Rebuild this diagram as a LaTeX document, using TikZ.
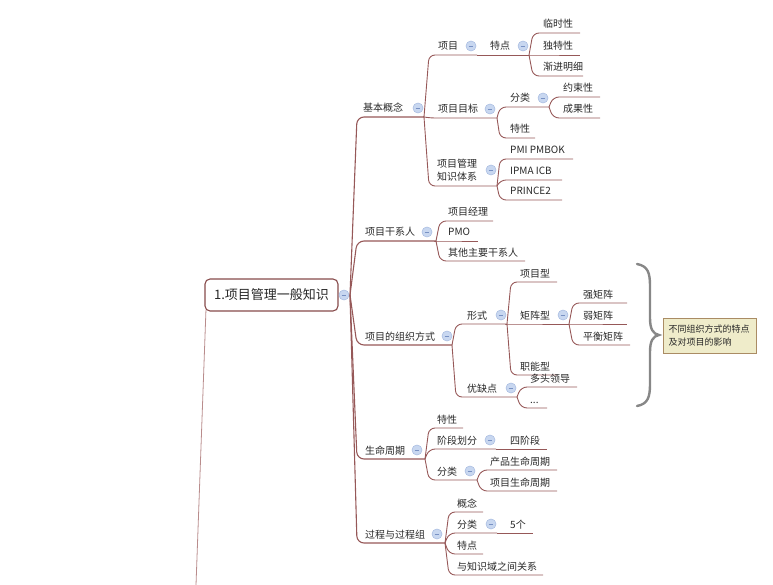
\documentclass[tikz,border=0pt]{standalone}
\usepackage{fontspec}
\setmainfont{Noto Sans CJK SC}
\definecolor{lnk}{RGB}{150,88,88}
\definecolor{txt}{RGB}{40,40,40}
\definecolor{foldfill}{RGB}{200,215,240}
\definecolor{foldline}{RGB}{170,190,225}
\definecolor{foldmark}{RGB}{120,145,195}
\definecolor{rootline}{RGB}{135,75,75}
\definecolor{tailcol}{RGB}{185,140,140}
\definecolor{bracecol}{RGB}{135,135,135}
\definecolor{notefill}{RGB}{239,236,202}
\definecolor{noteline}{RGB}{170,140,100}
\begin{document}
\begin{tikzpicture}[x=1pt,y=-1pt,
  topic/.style={anchor=base west, inner sep=0pt, font=\fontsize{10}{12}\selectfont, text=txt},
  conn/.style={draw=lnk, line width=0.9pt, rounded corners=6pt},
  mainconn/.style={draw=lnk, line width=1.1pt, rounded corners=7pt},
  fold/.style={circle, minimum size=10pt, inner sep=0pt, fill=foldfill, draw=foldline, line width=0.4pt,
    path picture={\draw[foldmark, line width=0.9pt]
      ([xshift=-2.4pt]path picture bounding box.center) -- ([xshift=2.4pt]path picture bounding box.center);}},
  rootbox/.style={draw=rootline, line width=1.1pt, rounded corners=5pt, fill=white,
    minimum width=133pt, minimum height=32pt, inner sep=0pt, font=\fontsize{13}{15}\selectfont, text=txt},
  notebox/.style={draw=noteline, fill=notefill, line width=0.7pt, text width=82pt, align=left,
    inner xsep=5.5pt, inner ysep=0pt, minimum height=35pt, font=\fontsize{9}{13}\selectfont, text=txt},
  bracestroke/.style={draw=bracecol, line width=2.4pt, line cap=round},
]
\useasboundingbox (0,0) rectangle (773,585);

% ---------- central topic ----------
\node[rootbox] (R) at (271.5,295) {1.项目管理一般知识};
\node[fold] (Rf) at (344,295) {};
\coordinate (Ru) at (350,295);
\coordinate (Rk) at (357,295);
\coordinate (Rtail) at (196,585);
\draw[tailcol, line width=0.8pt] ([shift={(1.5pt,1.5pt)}]R.south west) -- (Rtail);

% ---------- 基本概念 ----------
\node[topic] (A) at (363,112) {基本概念};
\coordinate (Au) at (424,117); \coordinate (Ak) at (429,117);
\node[fold] (Af) at (418,108) {};
\draw[mainconn] (Ru) -- (Rk |- Au) -- (Au);

\node[topic] (A1) at (438,50) {项目};
\coordinate (A1u) at (477,55);
\node[fold] (A1f) at (471,46) {};
\draw[conn] (Au) -- (Ak |- A1u) -- (A1u);

\node[topic] (A1a) at (490,50) {特点};
\coordinate (A1au) at (529,55); \coordinate (A1ak) at (533,55);
\node[fold] (A1af) at (523,46) {};
\draw[conn] (A1u) -- (A1au);

\node[topic] (L1) at (543,28) {临时性};   \coordinate (L1u) at (580,33);
\node[topic] (L2) at (543,50) {独特性};   \coordinate (L2u) at (580,55);
\node[topic] (L3) at (543,71) {渐进明细}; \coordinate (L3u) at (583,76);
\foreach \c in {L1u,L2u,L3u} \draw[conn] (A1au) -- (A1ak |- \c) -- (\c);

\node[topic] (A2) at (438,113) {项目目标};
\coordinate (A2u) at (497,118); \coordinate (A2k) at (500,118);
\node[fold] (A2f) at (490,109) {};
\draw[conn] (Au) -- (Ak |- A2u) -- (A2u);

\node[topic] (A2a) at (510,102) {分类};
\coordinate (A2au) at (549,107); \coordinate (A2ak) at (553,107);
\node[fold] (A2af) at (543,98) {};
\draw[conn] (A2u) -- (A2k |- A2au) -- (A2au);
\node[topic] (L4) at (563,92) {约束性};  \coordinate (L4u) at (600,97);
\node[topic] (L5) at (563,113) {成果性}; \coordinate (L5u) at (600,118);
\foreach \c in {L4u,L5u} \draw[conn] (A2au) -- (A2ak |- \c) -- (\c);

\node[topic] (A2b) at (510,133) {特性}; \coordinate (A2bu) at (535,138);
\draw[conn] (A2u) -- (A2k |- A2bu) -- (A2bu);

\node[topic, anchor=west, align=left, font=\fontsize{10}{13}\selectfont] (A3) at (437,170.5) {项目管理\\知识体系};
\coordinate (A3u) at (497,186); \coordinate (A3k) at (500,186);
\node[fold] (A3f) at (491,170) {};
\draw[conn] (Au) -- (Ak |- A3u) -- (A3u);
\node[topic] (L6) at (510,154) {PMI PMBOK}; \coordinate (L6u) at (573,159);
\node[topic] (L7) at (510,175) {IPMA ICB};  \coordinate (L7u) at (562,180);
\node[topic] (L8) at (510,195) {PRINCE2};   \coordinate (L8u) at (562,200);
\foreach \c in {L6u,L7u,L8u} \draw[conn] (A3u) -- (A3k |- \c) -- (\c);

% ---------- 项目干系人 ----------
\node[topic] (B) at (365,236) {项目干系人};
\coordinate (Bu) at (436,241); \coordinate (Bk) at (440,241);
\node[fold] (Bf) at (427,232) {};
\draw[mainconn] (Ru) -- (Rk |- Bu) -- (Bu);
\node[topic] (L9) at (448,216) {项目经理};        \coordinate (L9u) at (493,221);
\node[topic] (L10) at (448,236) {PMO};            \coordinate (L10u) at (478,241);
\node[topic] (L11) at (448,256) {其他主要干系人};  \coordinate (L11u) at (525,261);
\foreach \c in {L9u,L10u,L11u} \draw[conn] (Bu) -- (Bk |- \c) -- (\c);

% ---------- 项目的组织方式 ----------
\node[topic] (C) at (365,340) {项目的组织方式};
\coordinate (Cu) at (452,345); \coordinate (Ck) at (456,345);
\node[fold] (Cf) at (447,336) {};
\draw[mainconn] (Ru) -- (Rk |- Cu) -- (Cu);

\node[topic] (C1) at (467,319) {形式};
\coordinate (C1u) at (507,324); \coordinate (C1k) at (511,324);
\node[fold] (C1f) at (501,315) {};
\draw[conn] (Cu) -- (Ck |- C1u) -- (C1u);

\node[topic] (L12) at (520,277) {项目型}; \coordinate (L12u) at (557,282);
\node[topic] (C1b) at (520,319) {矩阵型};
\coordinate (C1bu) at (569,324); \coordinate (C1bk) at (573,324);
\node[fold] (C1bf) at (563,315) {};
\node[topic] (L13) at (520,370) {职能型}; \coordinate (L13u) at (557,375);
\foreach \c in {L12u,C1bu,L13u} \draw[conn] (C1u) -- (C1k |- \c) -- (\c);

\node[topic] (L14) at (583,298) {强矩阵};   \coordinate (L14u) at (627,303);
\node[topic] (L15) at (583,319) {弱矩阵};   \coordinate (L15u) at (627,324);
\node[topic] (L16) at (583,340) {平衡矩阵}; \coordinate (L16u) at (630,345);
\foreach \c in {L14u,L15u,L16u} \draw[conn] (C1bu) -- (C1bk |- \c) -- (\c);

\node[topic] (C2) at (467,392) {优缺点};
\coordinate (C2u) at (517,397); \coordinate (C2k) at (521,397);
\node[fold] (C2f) at (511,388) {};
\draw[conn] (Cu) -- (Ck |- C2u) -- (C2u);
\node[topic] (L17) at (530,382) {多头领导}; \coordinate (L17u) at (577,387);
\node[topic] (L18) at (530,403) {...};      \coordinate (L18u) at (547,408);
\foreach \c in {L17u,L18u} \draw[conn] (C2u) -- (C2k |- \c) -- (\c);

% brace and note beside the organisation forms
\draw[bracestroke] (637,264) .. controls (648,266) and (650,273) .. (650,286)
  -- (650,318) .. controls (650,329) and (653,334) .. (659,335)
  .. controls (653,336) and (650,341) .. (650,352)
  -- (650,384) .. controls (650,397) and (648,404) .. (637,406);
\node[notebox] (N) at (709.5,335.5) {不同组织方式的特点\\及对项目的影响};

% ---------- 生命周期 ----------
\node[topic] (D) at (365,454) {生命周期};
\coordinate (Du) at (425,459); \coordinate (Dk) at (429,459);
\node[fold] (Df) at (417,450) {};
\draw[mainconn] (Ru) -- (Rk |- Du) -- (Du);

\node[topic] (L19) at (437,423) {特性}; \coordinate (L19u) at (463,428);
\draw[conn] (Du) -- (Dk |- L19u) -- (L19u);

\node[topic] (D2) at (437,444) {阶段划分};
\coordinate (D2u) at (496,449);
\node[fold] (D2f) at (490,440) {};
\draw[conn] (Du) -- (Dk |- D2u) -- (D2u);
\node[topic] (L20) at (510,444) {四阶段}; \coordinate (L20u) at (547,449);
\draw[conn] (D2u) -- (L20u);

\node[topic] (D3) at (437,475) {分类};
\coordinate (D3u) at (477,480); \coordinate (D3k) at (481,480);
\node[fold] (D3f) at (470,471) {};
\draw[conn] (Du) -- (Dk |- D3u) -- (D3u);
\node[topic] (L21) at (490,465) {产品生命周期}; \coordinate (L21u) at (557,470);
\node[topic] (L22) at (490,486) {项目生命周期}; \coordinate (L22u) at (557,491);
\foreach \c in {L21u,L22u} \draw[conn] (D3u) -- (D3k |- \c) -- (\c);

% ---------- 过程与过程组 ----------
\node[topic] (E) at (365,538) {过程与过程组};
\coordinate (Eu) at (445,543); \coordinate (Ek) at (449,543);
\node[fold] (Ef) at (437,534) {};
\draw[mainconn] (Ru) -- (Rk |- Eu) -- (Eu);

\node[topic] (L23) at (457,507) {概念}; \coordinate (L23u) at (483,512);
\node[topic] (E2) at (457,528) {分类};
\coordinate (E2u) at (497,533);
\node[fold] (E2f) at (491,524) {};
\node[topic] (L25) at (457,549) {特点}; \coordinate (L25u) at (483,554);
\node[topic] (L26) at (457,570) {与知识域之间关系}; \coordinate (L26u) at (543,575);
\foreach \c in {L23u,E2u,L25u,L26u} \draw[conn] (Eu) -- (Ek |- \c) -- (\c);
\node[topic] (L24) at (510,528) {5个}; \coordinate (L24u) at (533,533);
\draw[conn] (E2u) -- (L24u);

% redraw the collapse markers above the connectors
\foreach \f/\p in {Rf/{344,295},Af/{418,108},A1f/{471,46},A1af/{523,46},A2f/{490,109},A2af/{543,98},
  A3f/{491,170},Bf/{427,232},Cf/{447,336},C1f/{501,315},C1bf/{563,315},C2f/{511,388},
  Df/{417,450},D2f/{490,440},D3f/{470,471},Ef/{437,534},E2f/{491,524}}
  \node[fold] at (\p) {};
\end{tikzpicture}
\end{document}
